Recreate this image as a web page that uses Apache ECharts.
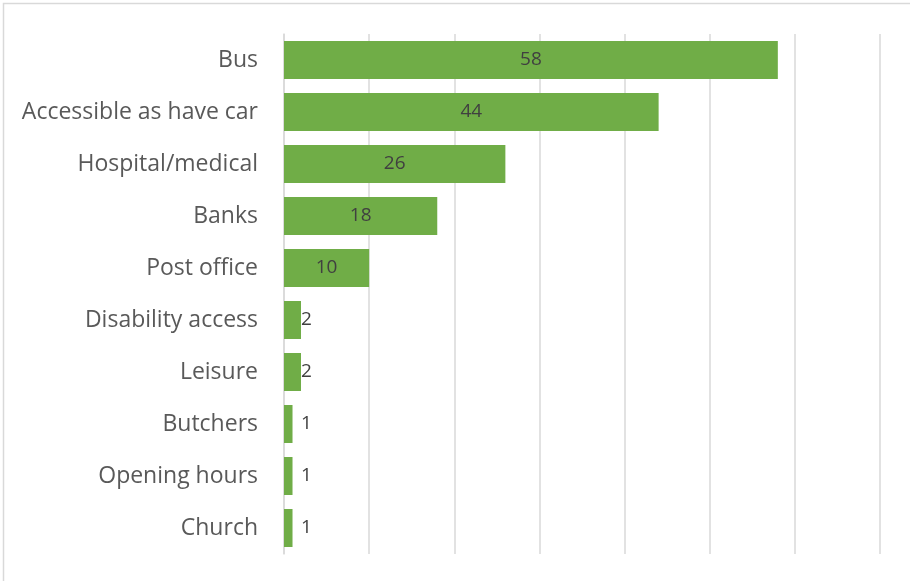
<!DOCTYPE html>
<html>
<head>
<meta charset="utf-8">
<script src="https://cdn.jsdelivr.net/npm/echarts@6/dist/echarts.min.js"></script>
<style>
  html, body { margin: 0; padding: 0; background: #fff; }
  #chart { width: 910px; height: 581px; }
</style>
</head>
<body>
<div id="chart"></div>
<script>
const categories = [
  "Bus",
  "Accessible as have car",
  "Hospital/medical",
  "Banks",
  "Post office",
  "Disability access",
  "Leisure",
  "Butchers",
  "Opening hours",
  "Church",
];
const counts = [58, 44, 26, 18, 10, 2, 2, 1, 1, 1];

const myChart = echarts.init(document.getElementById("chart"));
const fontFamily = "'Open Sans', Lato, sans-serif";

myChart.setOption({
  animation: false,
  graphic: [
    {
      type: "rect",
      shape: { x: 3.5, y: 3.5, width: 1000, height: 1000 },
      style: { fill: "none", stroke: "#d9d9d9", lineWidth: 1.5 },
      silent: true,
    },
  ],
  grid: {
    top: 34,
    bottom: 27,
    left: 284,
    right: 30,
    containLabel: false,
  },
  xAxis: {
    type: "value",
    min: 0,
    max: 70,
    interval: 10,
    axisLabel: { show: false },
    axisLine: { show: false },
    axisTick: { show: false },
    splitLine: {
      show: true,
      lineStyle: { color: "#d9d9d9", width: 1.5 },
    },
  },
  yAxis: {
    type: "category",
    data: categories,
    inverse: true,
    axisLine: {
      show: true,
      lineStyle: { color: "#d9d9d9", width: 1.5 },
    },
    axisTick: { show: false },
    axisLabel: {
      color: "#595959",
      fontSize: 23,
      fontFamily: fontFamily,
      margin: 26,
      padding: [4, 0, 0, 0],
    },
  },
  series: [
    {
      type: "bar",
      barWidth: 38,
      data: counts.map((v) => ({
        value: v,
        label:
          v < 5
            ? { position: "insideLeft", distance: 17 }
            : { position: "inside" },
      })),
      itemStyle: {
        color: "#70AD47",
      },
      label: {
        show: true,
        color: "#404040",
        fontSize: 19,
        fontFamily: fontFamily,
        padding: [2, 0, 0, 0],
      },
    },
  ],
});
</script>
</body>
</html>
